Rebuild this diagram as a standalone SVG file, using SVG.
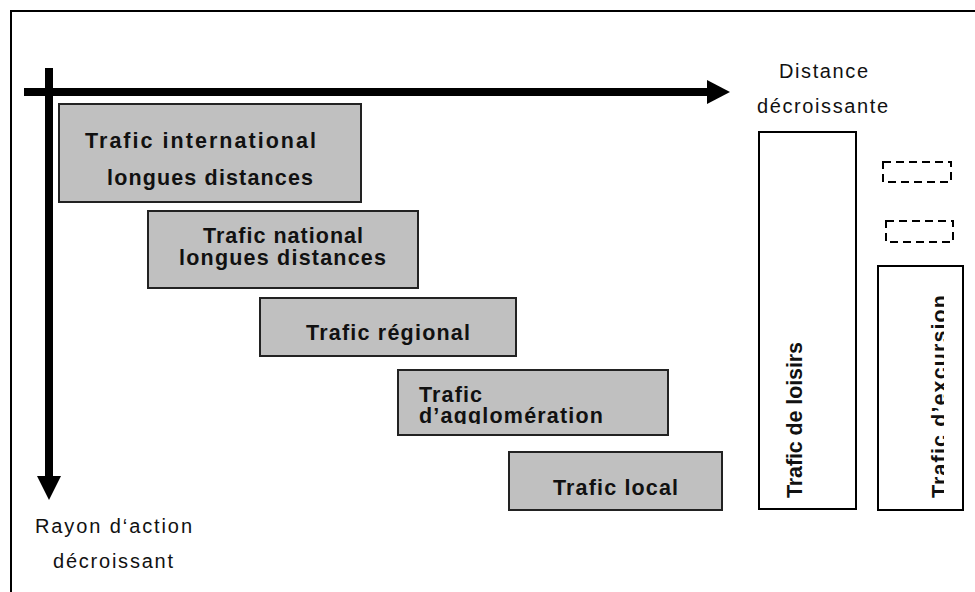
<svg xmlns="http://www.w3.org/2000/svg" width="975" height="592" viewBox="0 0 975 592">
  <style>
    .frame { fill: none; stroke: #000; stroke-width: 2; }
    .box { fill: #c0c0c0; stroke: #222; stroke-width: 2; }
    .col { fill: #fff; stroke: #000; stroke-width: 2; }
    .dash { fill: none; stroke: #000; stroke-width: 2; stroke-dasharray: 8 5; }
    .axis { fill: #000; }
    .lbl { font-family: "Liberation Sans", Arial, sans-serif; font-size: 21.5px; font-weight: bold; fill: #111; }
    .ax { font-family: "Liberation Sans", Arial, sans-serif; font-size: 20px; fill: #111; }
  </style>
  <defs>
    <clipPath id="clipAgglo"><rect x="399" y="371" width="268" height="53"/></clipPath>
    <clipPath id="clipExc"><rect x="879" y="267" width="65" height="242"/></clipPath>
  </defs>

  <rect width="975" height="592" fill="#fff"/>
  <path class="frame" d="M11,600 V11 H990"/>

  <!-- axes -->
  <g id="connectors">
    <rect class="axis" x="24" y="88" width="684" height="8"/>
    <polygon class="axis" points="707,80 730,92 707,104"/>
    <rect class="axis" x="45" y="68" width="8" height="408"/>
    <polygon class="axis" points="37,476 61,476 49,500"/>
  </g>

  <g id="label-distance">
    <text class="ax" x="779" y="78" textLength="89" lengthAdjust="spacing">Distance</text>
    <text class="ax" x="757" y="113" textLength="131" lengthAdjust="spacing">décroissante</text>
  </g>
  <g id="label-rayon">
    <text class="ax" x="35" y="533" textLength="157" lengthAdjust="spacing">Rayon d‘action</text>
    <text class="ax" x="53" y="568" textLength="120" lengthAdjust="spacing">décroissant</text>
  </g>

  <g id="international">
    <rect class="box" x="59" y="104" width="302" height="98"/>
    <text class="lbl" x="85" y="148" textLength="231" lengthAdjust="spacing">Trafic international</text>
    <text class="lbl" x="107" y="185" textLength="206" lengthAdjust="spacing">longues distances</text>
  </g>

  <g id="national">
    <rect class="box" x="148" y="211" width="270" height="77"/>
    <text class="lbl" x="203" y="243" textLength="160" lengthAdjust="spacing">Trafic national</text>
    <text class="lbl" x="179" y="265" textLength="207" lengthAdjust="spacing">longues distances</text>
  </g>

  <g id="regional">
    <rect class="box" x="260" y="298" width="256" height="58"/>
    <text class="lbl" x="306" y="340" textLength="164" lengthAdjust="spacing">Trafic régional</text>
  </g>

  <g id="agglomeration">
    <rect class="box" x="398" y="370" width="270" height="65"/>
    <g clip-path="url(#clipAgglo)">
      <text class="lbl" x="419" y="402" textLength="63" lengthAdjust="spacing">Trafic</text>
      <text class="lbl" x="419" y="423" textLength="184" lengthAdjust="spacing">d’agglomération</text>
    </g>
  </g>

  <g id="local">
    <rect class="box" x="509" y="452" width="213" height="58"/>
    <text class="lbl" x="553" y="495" textLength="125" lengthAdjust="spacing">Trafic local</text>
  </g>

  <g id="loisirs">
    <rect class="col" x="759" y="132" width="97" height="377"/>
    <text class="lbl" transform="translate(802,498) rotate(-90)" textLength="156" lengthAdjust="spacing">Trafic de loisirs</text>
  </g>

  <g id="excursion">
    <rect class="col" x="878" y="266" width="85" height="244"/>
    <g clip-path="url(#clipExc)">
      <text class="lbl" transform="translate(947,498) rotate(-90)" textLength="203" lengthAdjust="spacing">Trafic d’excursion</text>
    </g>
  </g>

  <g id="placeholder-1">
    <rect class="dash" x="883" y="162" width="68" height="20"/>
  </g>
  <g id="placeholder-2">
    <rect class="dash" x="886" y="221" width="67" height="21"/>
  </g>
</svg>
